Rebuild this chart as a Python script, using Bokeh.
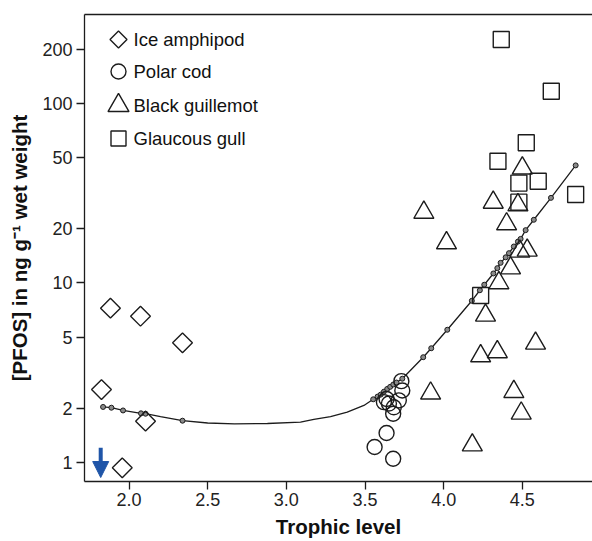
import numpy as np
from bokeh.plotting import figure
from bokeh.models import (Range1d, LinearScale, FixedTicker, NumeralTickFormatter,
                          Arrow, NormalHead, LinearAxis)
from bokeh.embed import file_html
from bokeh.resources import INLINE
from bokeh.core.properties import value

# ---- data: trophic level vs. PFOS concentration (ng/g wet weight) ----
amphipod_tl = [1.825, 1.882, 2.073, 2.340, 2.105, 1.957]
amphipod_pfos = [2.55, 7.24, 6.53, 4.64, 1.70, 0.934]

cod_tl = [3.731, 3.737, 3.715, 3.683, 3.637, 3.620, 3.652, 3.679, 3.637, 3.561, 3.679]
cod_pfos = [2.84, 2.52, 2.22, 2.03, 2.26, 2.17, 2.13, 1.87, 1.46, 1.22, 1.05]

guillemot_tl = [3.874, 4.018, 4.500, 4.315, 4.472, 4.400, 4.484, 4.531, 4.425,
                4.351, 4.266, 4.235, 4.341, 4.584, 3.917, 4.446, 4.493, 4.182]
guillemot_pfos = [24.7, 16.7, 43.6, 28.1, 27.2, 21.3, 15.0, 15.2, 12.1,
                  10.0, 6.6, 3.92, 4.13, 4.61, 2.43, 2.48, 1.88, 1.25]

gull_tl = [4.366, 4.684, 4.525, 4.345, 4.478, 4.601, 4.839, 4.478, 4.235]
gull_pfos = [227, 117, 60.4, 47.7, 36.0, 36.9, 31.1, 28.2, 8.52]

# sample below detection limit
bdl_tl = [1.82]
bdl_top = [1.21]
bdl_tip = [0.825]

# fitted values at the sampled trophic levels
fit_tl = [1.835, 1.888, 1.962, 2.076, 2.105, 2.340,
          3.552, 3.580, 3.600, 3.620, 3.641, 3.660, 3.680, 3.700, 3.737,
          3.870, 3.921, 4.023, 4.179, 4.230, 4.258, 4.316, 4.341, 4.362,
          4.394, 4.415, 4.446, 4.472, 4.489, 4.521, 4.573, 4.682, 4.839]
fit_pfos = [2.04, 2.02, 1.95, 1.88, 1.87, 1.71,
            2.25, 2.33, 2.39, 2.48, 2.57, 2.64, 2.72, 2.79, 2.93,
            3.86, 4.33, 5.49, 7.96, 9.11, 9.78, 11.3, 12.1, 12.95,
            13.9, 14.66, 15.97, 17.0, 17.6, 19.7, 22.5, 29.8, 45.2]

# fitted curve between the sampled levels
curve_tl = [2.20, 2.50, 2.67, 2.88, 3.09, 3.175, 3.281, 3.387, 3.493]
curve_pfos = [1.80, 1.66, 1.64, 1.65, 1.68, 1.74, 1.80, 1.91, 2.08]

x_ticks = [2.0, 2.5, 3.0, 3.5, 4.0, 4.5]
y_ticks = [1, 2, 5, 10, 20, 50, 100, 200]

legend_labels = ["Ice amphipod", "Polar cod", "Black guillemot", "Glaucous gull"]

INK = "#1c1c1c"
BLUE = "#1f55a8"
FONT = "Liberation Sans"

p = figure(width=592, height=541, y_axis_type="log",
           x_range=Range1d(1.717, 4.946), y_range=Range1d(0.784, 313),
           output_backend="svg", toolbar_location=None,
           min_border_left=84, min_border_right=0,
           min_border_top=14, min_border_bottom=60)
p.outline_line_color = None
p.grid.visible = False
p.background_fill_color = "white"
p.border_fill_color = "white"

# axes
for ax in (p.xaxis[0], p.yaxis[0]):
    ax.axis_line_color = INK
    ax.axis_line_width = 1.3
    ax.major_tick_line_color = INK
    ax.major_tick_line_width = 1.3
    ax.major_tick_out = 8
    ax.major_tick_in = 0
    ax.minor_tick_line_color = None
    ax.major_label_text_font = FONT
    ax.major_label_text_font_size = "18px"
    ax.major_label_text_color = "#222222"
    ax.axis_label_text_font = FONT
    ax.axis_label_text_font_style = "bold"
    ax.axis_label_text_font_size = "20.5px"
    ax.axis_label_text_color = "#111111"

p.xaxis[0].ticker = FixedTicker(ticks=x_ticks)
p.xaxis[0].formatter = NumeralTickFormatter(format="0.0")
p.xaxis[0].major_label_standoff = 3
p.xaxis[0].axis_label = "Trophic level"
p.xaxis[0].axis_label_standoff = 6

p.yaxis[0].ticker = FixedTicker(ticks=y_ticks)
p.yaxis[0].formatter = NumeralTickFormatter(format="0")
p.yaxis[0].major_label_standoff = 4
p.yaxis[0].axis_label = "[PFOS] in ng g\u207b\u00b9 wet weight"
p.yaxis[0].axis_label_standoff = 8

# top border line (an axis without ticks)
top = LinearAxis(ticker=FixedTicker(ticks=[]), major_tick_line_color=None,
                 minor_tick_line_color=None, major_label_standoff=0,
                 axis_line_color=INK, axis_line_width=1.3)
p.add_layout(top, "above")

# fitted curve with its points
pts = sorted(zip(fit_tl + curve_tl, fit_pfos + curve_pfos))
p.line([a for a, _ in pts], [b for _, b in pts], line_color=INK, line_width=1.3)
p.scatter(fit_tl, fit_pfos, marker="circle", size=5, line_color=INK,
          line_width=1, fill_color="#8a8a8a")

# species
common = dict(fill_color=None, line_color=INK, line_width=1.4)
p.scatter(amphipod_tl, amphipod_pfos, marker="square", angle=np.pi / 4, size=14, **common)
p.scatter(cod_tl, cod_pfos, marker="circle", size=15, **common)
p.scatter(guillemot_tl, guillemot_pfos, marker="triangle", size=20, **common)
p.scatter(gull_tl, gull_pfos, marker="square", size=16, **common)

# below detection limit marker
p.add_layout(Arrow(end=NormalHead(size=16, fill_color=BLUE, line_color=BLUE, line_width=1),
                   x_start=bdl_tl[0], y_start=bdl_top[0],
                   x_end=bdl_tl[0], y_end=bdl_tip[0],
                   line_color=BLUE, line_width=4))

# key, laid out in frame pixels
p.extra_x_ranges = {"lx": Range1d(0, 508)}
p.extra_y_ranges = {"ly": Range1d(467, 0)}
p.extra_y_scales = {"ly": LinearScale()}
key_y = [25, 57, 91, 124]
key_mx = 34
key_tx = 49
kw = dict(x_range_name="lx", y_range_name="ly", fill_color=None, line_color=INK, line_width=1.4)
p.scatter([key_mx], [key_y[0]], marker="square", angle=np.pi / 4, size=12, **kw)
p.scatter([key_mx], [key_y[1]], marker="circle", size=15, **kw)
p.scatter([key_mx], [key_y[2]], marker="triangle", size=21, **kw)
p.scatter([key_mx], [key_y[3]], marker="square", size=15, **kw)
p.text([key_tx] * 4, key_y, text=legend_labels, x_range_name="lx", y_range_name="ly",
       text_font=value(FONT), text_font_size="18.5px", text_baseline="middle",
       text_color="#111111")

open("out.html", "w").write(file_html(p, INLINE))
